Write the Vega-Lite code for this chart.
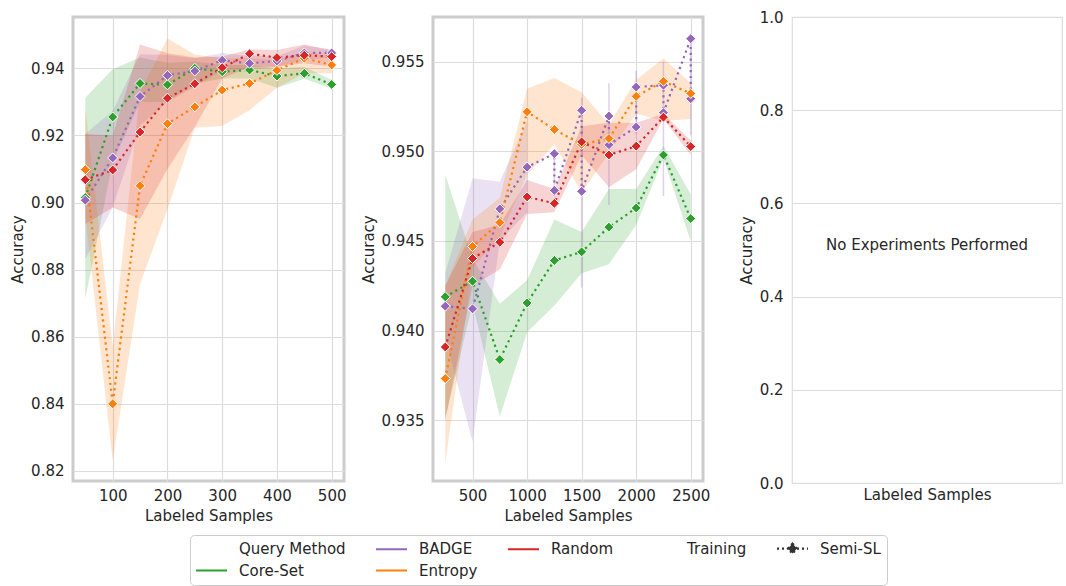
{
  "$schema": "https://vega.github.io/schema/vega-lite/v6.json",
  "background": "white",
  "padding": {"left": 9, "top": 9, "right": 2, "bottom": 2},
  "config": {
    "font": "DejaVu Sans",
    "axis": {"labelFont": "DejaVu Sans", "labelFontSize": 15, "labelColor": "#262626", "titleFont": "DejaVu Sans", "titleFontSize": 15, "titleFontWeight": "normal", "titleColor": "#262626", "ticks": false, "domain": false, "gridColor": "#dddddd", "gridWidth": 1.2, "labelPadding": 9, "labelFlush": false, "labelOverlap": false},
    "axisX": {"labelPadding": 7, "titlePadding": 5},
    "axisY": {"titlePadding": 5}
  },
  "datasets": {
    "p1": [
      {"m": "Core-Set", "x": 50, "v": 0.9015, "lo": 0.8713, "hi": 0.9312},
      {"m": "Core-Set", "x": 100, "v": 0.9255, "lo": 0.912, "hi": 0.9397},
      {"m": "Core-Set", "x": 150, "v": 0.9355, "lo": 0.93, "hi": 0.9432},
      {"m": "Core-Set", "x": 200, "v": 0.9351, "lo": 0.93, "hi": 0.9417},
      {"m": "Core-Set", "x": 250, "v": 0.94, "lo": 0.9355, "hi": 0.942},
      {"m": "Core-Set", "x": 300, "v": 0.939, "lo": 0.937, "hi": 0.941},
      {"m": "Core-Set", "x": 350, "v": 0.9395, "lo": 0.937, "hi": 0.941},
      {"m": "Core-Set", "x": 400, "v": 0.9377, "lo": 0.9342, "hi": 0.94},
      {"m": "Core-Set", "x": 450, "v": 0.9385, "lo": 0.9369, "hi": 0.9405},
      {"m": "Core-Set", "x": 500, "v": 0.9352, "lo": 0.934, "hi": 0.9365},
      {"m": "BADGE", "x": 50, "v": 0.9007, "lo": 0.8831, "hi": 0.9205},
      {"m": "BADGE", "x": 100, "v": 0.9133, "lo": 0.8985, "hi": 0.9273},
      {"m": "BADGE", "x": 150, "v": 0.9316, "lo": 0.923, "hi": 0.9442},
      {"m": "BADGE", "x": 200, "v": 0.9379, "lo": 0.93, "hi": 0.944},
      {"m": "BADGE", "x": 250, "v": 0.9392, "lo": 0.9345, "hi": 0.943},
      {"m": "BADGE", "x": 300, "v": 0.9424, "lo": 0.9395, "hi": 0.9446},
      {"m": "BADGE", "x": 350, "v": 0.9415, "lo": 0.9395, "hi": 0.9437},
      {"m": "BADGE", "x": 400, "v": 0.9422, "lo": 0.9405, "hi": 0.9435},
      {"m": "BADGE", "x": 450, "v": 0.9446, "lo": 0.9425, "hi": 0.9468},
      {"m": "BADGE", "x": 500, "v": 0.9446, "lo": 0.9432, "hi": 0.9455},
      {"m": "Entropy", "x": 50, "v": 0.9098, "lo": 0.896, "hi": 0.928},
      {"m": "Entropy", "x": 100, "v": 0.84, "lo": 0.823, "hi": 0.857},
      {"m": "Entropy", "x": 150, "v": 0.905, "lo": 0.8757, "hi": 0.933},
      {"m": "Entropy", "x": 200, "v": 0.9235, "lo": 0.898, "hi": 0.9489},
      {"m": "Entropy", "x": 250, "v": 0.9285, "lo": 0.9223, "hi": 0.9441},
      {"m": "Entropy", "x": 300, "v": 0.9335, "lo": 0.9228, "hi": 0.943},
      {"m": "Entropy", "x": 350, "v": 0.9355, "lo": 0.9275, "hi": 0.943},
      {"m": "Entropy", "x": 400, "v": 0.9394, "lo": 0.9342, "hi": 0.9425},
      {"m": "Entropy", "x": 450, "v": 0.943, "lo": 0.9385, "hi": 0.945},
      {"m": "Entropy", "x": 500, "v": 0.941, "lo": 0.9385, "hi": 0.9435},
      {"m": "Random", "x": 50, "v": 0.9068, "lo": 0.8936, "hi": 0.9204},
      {"m": "Random", "x": 100, "v": 0.9097, "lo": 0.8985, "hi": 0.92},
      {"m": "Random", "x": 150, "v": 0.921, "lo": 0.8951, "hi": 0.9471},
      {"m": "Random", "x": 200, "v": 0.9311, "lo": 0.91, "hi": 0.9445},
      {"m": "Random", "x": 250, "v": 0.9354, "lo": 0.9225, "hi": 0.9432},
      {"m": "Random", "x": 300, "v": 0.9402, "lo": 0.937, "hi": 0.9435},
      {"m": "Random", "x": 350, "v": 0.94435, "lo": 0.9405, "hi": 0.9456},
      {"m": "Random", "x": 400, "v": 0.9432, "lo": 0.9405, "hi": 0.9455},
      {"m": "Random", "x": 450, "v": 0.9439, "lo": 0.9415, "hi": 0.9471},
      {"m": "Random", "x": 500, "v": 0.9435, "lo": 0.9405, "hi": 0.9455}
    ],
    "p2b": [
      {"m": "Core-Set", "x": 250, "lo": 0.9351, "hi": 0.9487},
      {"m": "Core-Set", "x": 500, "lo": 0.9415, "hi": 0.944},
      {"m": "Core-Set", "x": 750, "lo": 0.9352, "hi": 0.9415},
      {"m": "Core-Set", "x": 1000, "lo": 0.9399, "hi": 0.9428},
      {"m": "Core-Set", "x": 1250, "lo": 0.9414, "hi": 0.9462},
      {"m": "Core-Set", "x": 1500, "lo": 0.9432, "hi": 0.9455},
      {"m": "Core-Set", "x": 1750, "lo": 0.9437, "hi": 0.9479},
      {"m": "Core-Set", "x": 2000, "lo": 0.9459, "hi": 0.9479},
      {"m": "Core-Set", "x": 2250, "lo": 0.9496, "hi": 0.9503},
      {"m": "Core-Set", "x": 2500, "lo": 0.945, "hi": 0.9476},
      {"m": "BADGE", "x": 250, "lo": 0.9396, "hi": 0.9432},
      {"m": "BADGE", "x": 500, "lo": 0.9338, "hi": 0.9485},
      {"m": "BADGE", "x": 750, "lo": 0.945, "hi": 0.9483},
      {"m": "BADGE", "x": 1000, "lo": 0.9466, "hi": 0.9517},
      {"m": "Entropy", "x": 250, "lo": 0.9326, "hi": 0.9425},
      {"m": "Entropy", "x": 500, "lo": 0.9435, "hi": 0.9462},
      {"m": "Entropy", "x": 750, "lo": 0.9452, "hi": 0.9474},
      {"m": "Entropy", "x": 1000, "lo": 0.9487, "hi": 0.9535},
      {"m": "Entropy", "x": 1250, "lo": 0.9504, "hi": 0.9541},
      {"m": "Entropy", "x": 1500, "lo": 0.9477, "hi": 0.9533},
      {"m": "Entropy", "x": 1750, "lo": 0.9499, "hi": 0.9515},
      {"m": "Entropy", "x": 2000, "lo": 0.9521, "hi": 0.954},
      {"m": "Entropy", "x": 2250, "lo": 0.9517, "hi": 0.9552},
      {"m": "Entropy", "x": 2500, "lo": 0.9518, "hi": 0.9538},
      {"m": "Random", "x": 250, "lo": 0.935, "hi": 0.9425},
      {"m": "Random", "x": 500, "lo": 0.9425, "hi": 0.9455},
      {"m": "Random", "x": 750, "lo": 0.9434, "hi": 0.9459},
      {"m": "Random", "x": 1000, "lo": 0.9465, "hi": 0.9484},
      {"m": "Random", "x": 1250, "lo": 0.9466, "hi": 0.9479},
      {"m": "Random", "x": 1500, "lo": 0.9498, "hi": 0.9514},
      {"m": "Random", "x": 1750, "lo": 0.948, "hi": 0.9516},
      {"m": "Random", "x": 2000, "lo": 0.949, "hi": 0.9516},
      {"m": "Random", "x": 2250, "lo": 0.9518, "hi": 0.9521},
      {"m": "Random", "x": 2500, "lo": 0.9498, "hi": 0.9506}
    ],
    "p2r": [
      {"m": "BADGE", "x": 1250, "lo": 0.9475, "hi": 0.95},
      {"m": "BADGE", "x": 1500, "lo": 0.9424, "hi": 0.953},
      {"m": "BADGE", "x": 1750, "lo": 0.947, "hi": 0.9538},
      {"m": "BADGE", "x": 2000, "lo": 0.951, "hi": 0.9545},
      {"m": "BADGE", "x": 2250, "lo": 0.9475, "hi": 0.955},
      {"m": "BADGE", "x": 2500, "lo": 0.9509, "hi": 0.9563}
    ],
    "p2l": [
      {"m": "Core-Set", "o": 1, "x": 250, "v": 0.94188},
      {"m": "Core-Set", "o": 2, "x": 500, "v": 0.94275},
      {"m": "Core-Set", "o": 3, "x": 750, "v": 0.93838},
      {"m": "Core-Set", "o": 4, "x": 1000, "v": 0.94154},
      {"m": "Core-Set", "o": 5, "x": 1250, "v": 0.94391},
      {"m": "Core-Set", "o": 6, "x": 1500, "v": 0.94439},
      {"m": "Core-Set", "o": 7, "x": 1750, "v": 0.94577},
      {"m": "Core-Set", "o": 8, "x": 2000, "v": 0.94684},
      {"m": "Core-Set", "o": 9, "x": 2250, "v": 0.9498},
      {"m": "Core-Set", "o": 10, "x": 2500, "v": 0.94625},
      {"m": "BADGE", "o": 1, "x": 250, "v": 0.94136},
      {"m": "BADGE", "o": 2, "x": 500, "v": 0.94121},
      {"m": "BADGE", "o": 3, "x": 750, "v": 0.94679},
      {"m": "BADGE", "o": 4, "x": 1000, "v": 0.94912},
      {"m": "BADGE", "o": 5, "x": 1250, "v": 0.94987},
      {"m": "BADGE", "o": 6, "x": 1250, "v": 0.94782},
      {"m": "BADGE", "o": 7, "x": 1500, "v": 0.95229},
      {"m": "BADGE", "o": 8, "x": 1500, "v": 0.94777},
      {"m": "BADGE", "o": 9, "x": 1750, "v": 0.95197},
      {"m": "BADGE", "o": 10, "x": 1750, "v": 0.95037},
      {"m": "BADGE", "o": 11, "x": 2000, "v": 0.95136},
      {"m": "BADGE", "o": 12, "x": 2000, "v": 0.95359},
      {"m": "BADGE", "o": 13, "x": 2250, "v": 0.95369},
      {"m": "BADGE", "o": 14, "x": 2250, "v": 0.95216},
      {"m": "BADGE", "o": 15, "x": 2500, "v": 0.95629},
      {"m": "BADGE", "o": 16, "x": 2500, "v": 0.95294},
      {"m": "Entropy", "o": 1, "x": 250, "v": 0.93732},
      {"m": "Entropy", "o": 2, "x": 500, "v": 0.94469},
      {"m": "Entropy", "o": 3, "x": 750, "v": 0.94603},
      {"m": "Entropy", "o": 4, "x": 1000, "v": 0.95221},
      {"m": "Entropy", "o": 5, "x": 1250, "v": 0.95122},
      {"m": "Entropy", "o": 6, "x": 1500, "v": 0.95039},
      {"m": "Entropy", "o": 7, "x": 1750, "v": 0.95072},
      {"m": "Entropy", "o": 8, "x": 2000, "v": 0.95307},
      {"m": "Entropy", "o": 9, "x": 2250, "v": 0.95391},
      {"m": "Entropy", "o": 10, "x": 2500, "v": 0.95323},
      {"m": "Random", "o": 1, "x": 250, "v": 0.93908},
      {"m": "Random", "o": 2, "x": 500, "v": 0.94402},
      {"m": "Random", "o": 3, "x": 750, "v": 0.94493},
      {"m": "Random", "o": 4, "x": 1000, "v": 0.94746},
      {"m": "Random", "o": 5, "x": 1250, "v": 0.9471},
      {"m": "Random", "o": 6, "x": 1500, "v": 0.95053},
      {"m": "Random", "o": 7, "x": 1750, "v": 0.9498},
      {"m": "Random", "o": 8, "x": 2000, "v": 0.95029},
      {"m": "Random", "o": 9, "x": 2250, "v": 0.95191},
      {"m": "Random", "o": 10, "x": 2500, "v": 0.95027}
    ],
    "p3": [{"label": "No Experiments Performed", "x": 0.5, "y": 0.5}]
  },
  "hconcat": [
    {
      "spacing": 11,
      "hconcat": [
        {
          "width": 271, "height": 464,
          "view": {"stroke": "#cccccc", "strokeWidth": 3},
          "data": {"name": "p1"},
          "encoding": {
            "x": {"field": "x", "type": "quantitative", "scale": {"domain": [27.5, 522.5], "nice": false, "zero": false}, "axis": {"title": "Labeled Samples", "values": [100, 200, 300, 400, 500], "format": "d"}}
          },
          "layer": [
            {
              "mark": {"type": "area", "opacity": 0.2},
              "encoding": {
                "y": {"field": "lo", "type": "quantitative", "scale": {"domain": [0.817, 0.9553], "nice": false, "zero": false}, "axis": {"title": "Accuracy", "values": [0.82, 0.84, 0.86, 0.88, 0.9, 0.92, 0.94], "format": ".2f"}},
                "y2": {"field": "hi"},
                "color": {
                  "field": "m", "type": "nominal",
                  "scale": {"domain": ["Query Method", "BADGE", "Random", "Training", "Semi-SL", "Core-Set", "Entropy"], "range": ["transparent", "#9467bd", "#d62728", "transparent", "#333333", "#2ca02c", "#ff7f0e"]},
                  "legend": {
                    "title": null, "orient": "none", "legendX": 117, "legendY": 518,
                    "direction": "horizontal", "columns": 5,
                    "symbolType": "M-3.1,0H3.1", "symbolSize": 100, "symbolStrokeWidth": 2.2, "symbolOpacity": 1, "symbolOffset": 8,
                    "labelFontSize": 15, "labelFont": "DejaVu Sans", "labelColor": "#262626", "labelOffset": 20, "labelLimit": 300,
                    "columnPadding": 25, "rowPadding": 5, "padding": 6,
                    "strokeColor": "#cccccc", "fillColor": "white", "cornerRadius": 4,
                    "encode": {
                      "symbols": {
                        "update": {
                          "shape": {"signal": "datum.value === 'Semi-SL' ? 'M-3.1,0H3.1M0,-1L0.9,0L0,1L-0.9,0Z' : 'M-3.1,0H3.1'"},
                          "stroke": {"scale": "color", "field": "value"},
                          "fill": {"signal": "datum.value === 'Semi-SL' ? '#333333' : 'transparent'"},
                          "strokeDash": {"signal": "datum.value === 'Semi-SL' ? [2, 3] : [1, 0]"},
                          "opacity": {"value": 1},
                          "fillOpacity": {"value": 1},
                          "strokeOpacity": {"value": 1},
                          "strokeWidth": {"value": 2.2}
                        }
                      }
                    }
                  }
                }
              }
            },
            {
              "mark": {"type": "line", "strokeDash": [2.2, 3.6], "strokeWidth": 2.2},
              "encoding": {
                "y": {"field": "v", "type": "quantitative", "scale": {"domain": [0.817, 0.9553], "nice": false, "zero": false}, "axis": {"title": "Accuracy", "values": [0.82, 0.84, 0.86, 0.88, 0.9, 0.92, 0.94], "format": ".2f"}},
                "color": {"field": "m", "type": "nominal", "scale": {"domain": ["Query Method", "BADGE", "Random", "Training", "Semi-SL", "Core-Set", "Entropy"], "range": ["transparent", "#9467bd", "#d62728", "transparent", "#333333", "#2ca02c", "#ff7f0e"]}}
              }
            },
            {
              "mark": {"type": "point", "shape": "diamond", "filled": true, "size": 100, "stroke": "white", "strokeWidth": 1, "opacity": 1},
              "encoding": {
                "y": {"field": "v", "type": "quantitative", "scale": {"domain": [0.817, 0.9553], "nice": false, "zero": false}, "axis": {"title": "Accuracy", "values": [0.82, 0.84, 0.86, 0.88, 0.9, 0.92, 0.94], "format": ".2f"}},
                "color": {"field": "m", "type": "nominal", "scale": {"domain": ["Query Method", "BADGE", "Random", "Training", "Semi-SL", "Core-Set", "Entropy"], "range": ["transparent", "#9467bd", "#d62728", "transparent", "#333333", "#2ca02c", "#ff7f0e"]}}
              }
            }
          ]
        },
        {
          "width": 270, "height": 464,
          "view": {"stroke": "#cccccc", "strokeWidth": 3},
          "encoding": {
            "x": {"field": "x", "type": "quantitative", "scale": {"domain": [137.5, 2612.5], "nice": false, "zero": false}, "axis": {"title": "Labeled Samples", "values": [500, 1000, 1500, 2000, 2500], "format": "d"}}
          },
          "layer": [
            {
              "data": {"name": "p2b"},
              "mark": {"type": "area", "opacity": 0.2},
              "encoding": {
                "y": {"field": "lo", "type": "quantitative", "scale": {"domain": [0.9316, 0.9575], "nice": false, "zero": false}, "axis": {"title": "Accuracy", "values": [0.935, 0.94, 0.945, 0.95, 0.955], "format": ".3f"}},
                "y2": {"field": "hi"},
                "color": {"field": "m", "type": "nominal", "scale": {"domain": ["Query Method", "BADGE", "Random", "Training", "Semi-SL", "Core-Set", "Entropy"], "range": ["transparent", "#9467bd", "#d62728", "transparent", "#333333", "#2ca02c", "#ff7f0e"]}}
              }
            },
            {
              "data": {"name": "p2r"},
              "mark": {"type": "rule", "opacity": 0.3, "strokeWidth": 1.5},
              "encoding": {
                "y": {"field": "lo", "type": "quantitative", "scale": {"domain": [0.9316, 0.9575], "nice": false, "zero": false}, "axis": {"title": "Accuracy", "values": [0.935, 0.94, 0.945, 0.95, 0.955], "format": ".3f"}},
                "y2": {"field": "hi"},
                "color": {"field": "m", "type": "nominal", "scale": {"domain": ["Query Method", "BADGE", "Random", "Training", "Semi-SL", "Core-Set", "Entropy"], "range": ["transparent", "#9467bd", "#d62728", "transparent", "#333333", "#2ca02c", "#ff7f0e"]}}
              }
            },
            {
              "data": {"name": "p2l"},
              "mark": {"type": "line", "strokeDash": [2.2, 3.6], "strokeWidth": 2.2},
              "encoding": {
                "y": {"field": "v", "type": "quantitative", "scale": {"domain": [0.9316, 0.9575], "nice": false, "zero": false}, "axis": {"title": "Accuracy", "values": [0.935, 0.94, 0.945, 0.95, 0.955], "format": ".3f"}},
                "order": {"field": "o", "type": "quantitative"},
                "color": {"field": "m", "type": "nominal", "scale": {"domain": ["Query Method", "BADGE", "Random", "Training", "Semi-SL", "Core-Set", "Entropy"], "range": ["transparent", "#9467bd", "#d62728", "transparent", "#333333", "#2ca02c", "#ff7f0e"]}}
              }
            },
            {
              "data": {"name": "p2l"},
              "mark": {"type": "point", "shape": "diamond", "filled": true, "size": 100, "stroke": "white", "strokeWidth": 1, "opacity": 1},
              "encoding": {
                "y": {"field": "v", "type": "quantitative", "scale": {"domain": [0.9316, 0.9575], "nice": false, "zero": false}, "axis": {"title": "Accuracy", "values": [0.935, 0.94, 0.945, 0.95, 0.955], "format": ".3f"}},
                "color": {"field": "m", "type": "nominal", "scale": {"domain": ["Query Method", "BADGE", "Random", "Training", "Semi-SL", "Core-Set", "Entropy"], "range": ["transparent", "#9467bd", "#d62728", "transparent", "#333333", "#2ca02c", "#ff7f0e"]}}
              }
            }
          ]
        }
      ]
    },
    {
      "width": 270, "height": 466,
      "view": {"stroke": "#dddddd", "strokeWidth": 1.2},
      "data": {"name": "p3"},
      "mark": {"type": "text", "fontSize": 15, "color": "#262626", "font": "DejaVu Sans", "baseline": "middle", "dy": -5},
      "encoding": {
        "x": {"field": "x", "type": "quantitative", "scale": {"domain": [0, 1], "nice": false}, "axis": {"title": "Labeled Samples", "labels": false, "grid": false, "ticks": false, "titlePadding": 4}},
        "y": {"field": "y", "type": "quantitative", "scale": {"domain": [0, 1], "nice": false}, "axis": {"title": "Accuracy", "values": [0, 0.2, 0.4, 0.6, 0.8, 1.0], "format": ".1f"}},
        "text": {"field": "label"}
      }
    }
  ],
  "spacing": 26
}
